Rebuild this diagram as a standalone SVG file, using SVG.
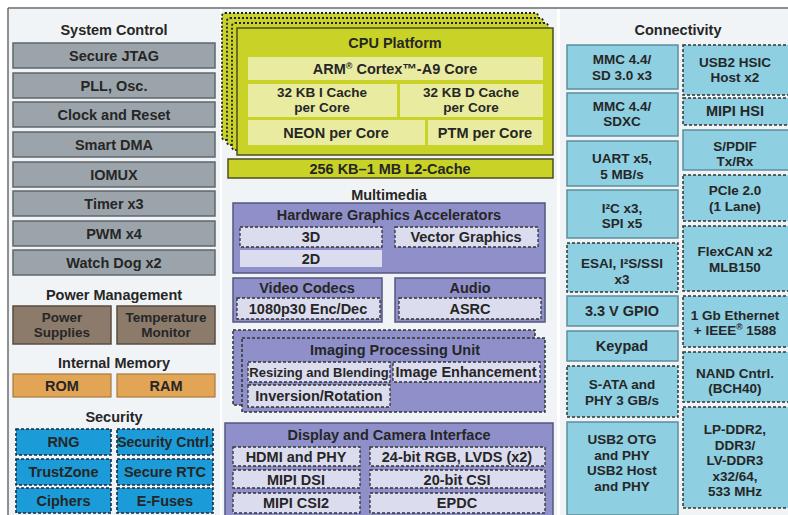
<svg xmlns="http://www.w3.org/2000/svg" width="788" height="515" viewBox="0 0 788 515">
<defs>
<style>
text{font-family:"Liberation Sans",Arial,sans-serif;font-weight:bold;font-size:14.5px;fill:#262626;text-anchor:middle}
.m{font-size:13.5px}
.panel{fill:#f1f4f6}
.sys{fill:#9ba4aa;stroke:#5f666b;stroke-width:1.5}
.pwr{fill:#8c7b6b;stroke:#5a4c40;stroke-width:1.5}
.mem{fill:#e2a455;stroke:#a8793c;stroke-width:1.2}
.sec{fill:#1b9bd7;stroke:#1c2a40;stroke-width:1.6;stroke-dasharray:3 2}
.cpuL{fill:#c8d22a;stroke:#222;stroke-width:1.8;stroke-dasharray:2 2}
.cpu{fill:#c9d327;stroke:#4d4d20;stroke-width:1.5}
.cpuIn{fill:#e9eca0}
.mm{fill:#8f90c9;stroke:#55567f;stroke-width:1.5}
.mmD{fill:#8f90c9;stroke:#333;stroke-width:1.5;stroke-dasharray:3 2}
.mmIn{fill:#dcdcef;stroke:#333;stroke-width:1.3;stroke-dasharray:3 2}
.mmIn2{fill:#dcdcef}
.con{fill:#8ecfe2;stroke:#5b8e9d;stroke-width:1.5}
.conD{fill:#8ecfe2;stroke:#333;stroke-width:1.5;stroke-dasharray:3 2}
</style>
</defs>
<rect x="0" y="0" width="788" height="515" fill="#ffffff"/>
<rect class="panel" x="9" y="9" width="211" height="506"/>
<rect class="panel" x="222" y="9" width="335" height="506"/>
<rect class="panel" x="560" y="9" width="228" height="506"/>
<line x1="8" y1="8" x2="788" y2="8" stroke="#6a6a6a" stroke-width="1.5"/>
<line x1="8" y1="8" x2="8" y2="515" stroke="#6a6a6a" stroke-width="1.5"/>

<g id="system-control">
<text x="114" y="35">System Control</text>
<rect class="sys" x="13" y="43" width="202" height="25"/><text x="114" y="60.5">Secure JTAG</text>
<rect class="sys" x="13" y="73" width="202" height="25"/><text x="114" y="90.5">PLL, Osc.</text>
<rect class="sys" x="13" y="102" width="202" height="25"/><text x="114" y="119.5">Clock and Reset</text>
<rect class="sys" x="13" y="132" width="202" height="25"/><text x="114" y="149.5">Smart DMA</text>
<rect class="sys" x="13" y="162" width="202" height="25"/><text x="114" y="179.5">IOMUX</text>
<rect class="sys" x="13" y="191" width="202" height="25"/><text x="114" y="208.5">Timer x3</text>
<rect class="sys" x="13" y="221" width="202" height="25"/><text x="114" y="238.5">PWM x4</text>
<rect class="sys" x="13" y="250" width="202" height="25"/><text x="114" y="267.5">Watch Dog x2</text>
</g>

<g id="power-management">
<text x="114" y="300">Power Management</text>
<rect class="pwr" x="13" y="306" width="98" height="38"/>
<text class="m" x="62" y="321.75">Power</text><text class="m" x="62" y="337.25">Supplies</text>
<rect class="pwr" x="117" y="306" width="98" height="38"/>
<text class="m" x="166" y="321.75">Temperature</text><text class="m" x="166" y="337.25">Monitor</text>
</g>

<g id="internal-memory">
<text x="114" y="368">Internal Memory</text>
<rect class="mem" x="13" y="374" width="98" height="23"/><text x="62" y="390.5">ROM</text>
<rect class="mem" x="117" y="374" width="98" height="23"/><text x="166" y="390.5">RAM</text>
</g>

<g id="security">
<text x="114" y="422">Security</text>
<rect class="sec" x="16" y="429" width="95" height="26"/><text x="63.5" y="447">RNG</text>
<rect class="sec" x="117" y="429" width="96" height="26"/><text x="165" y="447" style="font-size:14px">Security Cntrl.</text>
<rect class="sec" x="16" y="459" width="95" height="26"/><text x="63.5" y="477">TrustZone</text>
<rect class="sec" x="117" y="459" width="96" height="26"/><text x="165" y="477">Secure RTC</text>
<rect class="sec" x="16" y="488" width="95" height="25"/><text x="63.5" y="506">Ciphers</text>
<rect class="sec" x="117" y="488" width="96" height="25"/><text x="165" y="506">E-Fuses</text>
</g>

<g id="cpu-platform">
<rect class="cpuL" x="222" y="13" width="316" height="127" rx="3"/>
<rect class="cpuL" x="227" y="18" width="316" height="127" rx="3"/>
<rect class="cpuL" x="232" y="23" width="316" height="127" rx="3"/>
<rect class="cpu" x="237" y="28" width="316" height="127"/>
<text x="395" y="48">CPU Platform</text>
<rect class="cpuIn" x="248" y="57" width="295" height="23"/>
<text x="395" y="74">ARM<tspan font-size="9" baseline-shift="super">®</tspan> Cortex™-A9 Core</text>
<rect class="cpuIn" x="248" y="84" width="149" height="33"/>
<text class="m" x="322" y="96.75">32 KB I Cache</text><text class="m" x="322" y="112.25">per Core</text>
<rect class="cpuIn" x="400" y="84" width="143" height="33"/>
<text class="m" x="471" y="96.75">32 KB D Cache</text><text class="m" x="471" y="112.25">per Core</text>
<rect class="cpuIn" x="248" y="120" width="177" height="25"/><text x="336" y="137.5">NEON per Core</text>
<rect class="cpuIn" x="428" y="120" width="115" height="25"/><text x="485" y="137.5">PTM per Core</text>
</g>

<g id="l2-cache">
<rect class="cpu" x="228" y="159" width="325" height="19"/>
<text x="390" y="174">256 KB–1 MB L2-Cache</text>
</g>

<g id="multimedia">
<text x="389" y="200">Multimedia</text>
<rect class="mm" x="233" y="203" width="312" height="70"/>
<text x="389" y="220">Hardware Graphics Accelerators</text>
<rect class="mmIn" x="240" y="227" width="142" height="20"/><text x="311" y="242">3D</text>
<rect class="mmIn" x="395" y="227" width="143" height="20"/><text x="466" y="242">Vector Graphics</text>
<rect class="mmIn2" x="240" y="250" width="142" height="17"/><text x="311" y="264">2D</text>
<rect class="mm" x="233" y="278" width="149" height="44"/>
<text x="307" y="293">Video Codecs</text>
<rect class="mmIn" x="237" y="298" width="143" height="21"/><text x="308" y="314">1080p30 Enc/Dec</text>
<rect class="mm" x="395" y="278" width="150" height="44"/>
<text x="470" y="293">Audio</text>
<rect class="mmIn" x="399" y="298" width="142" height="21"/><text x="470" y="314">ASRC</text>
</g>

<g id="imaging-processing-unit">
<rect class="mmD" x="233" y="330" width="302" height="75"/>
<rect class="mmD" x="242" y="338" width="303" height="74"/>
<text x="395" y="355">Imaging Processing Unit</text>
<rect class="mmIn" x="248" y="362" width="142" height="20"/><text x="319" y="377" style="font-size:13px">Resizing and Blending</text>
<rect class="mmIn" x="393" y="362" width="147" height="20"/><text x="466" y="377">Image Enhancement</text>
<rect class="mmIn" x="248" y="385" width="142" height="22"/><text x="319" y="401">Inversion/Rotation</text>
</g>

<g id="display-camera">
<rect class="mm" x="225" y="423" width="328" height="95"/>
<text x="389" y="440">Display and Camera Interface</text>
<rect class="mmIn" x="233" y="447" width="127" height="19"/><text x="296" y="462">HDMI and PHY</text>
<rect class="mmIn" x="370" y="447" width="175" height="19"/><text x="457" y="462">24-bit RGB, LVDS (x2)</text>
<rect class="mmIn" x="233" y="470" width="127" height="18"/><text x="296" y="484.5">MIPI DSI</text>
<rect class="mmIn" x="370" y="470" width="175" height="18"/><text x="457" y="484.5">20-bit CSI</text>
<rect class="mmIn" x="233" y="493" width="127" height="20"/><text x="296" y="508">MIPI CSI2</text>
<rect class="mmIn" x="370" y="493" width="175" height="20"/><text x="457" y="508">EPDC</text>
</g>

<g id="connectivity">
<text x="678" y="35">Connectivity</text>
<rect class="con" x="567" y="45" width="111" height="44"/>
<text class="m" x="622" y="64.25">MMC 4.4/</text><text class="m" x="622" y="79.75">SD 3.0 x3</text>
<rect class="con" x="567" y="93" width="111" height="43"/>
<text class="m" x="622" y="110.75">MMC 4.4/</text><text class="m" x="622" y="126.25">SDXC</text>
<rect class="con" x="567" y="141" width="111" height="45"/>
<text class="m" x="622" y="163.25">UART x5,</text><text class="m" x="622" y="178.75">5 MB/s</text>
<rect class="con" x="567" y="190" width="111" height="48"/>
<text class="m" x="622" y="212.75">I²C x3,</text><text class="m" x="622" y="228.25">SPI x5</text>
<rect class="conD" x="567" y="243" width="111" height="49"/>
<text class="m" x="622" y="268.25">ESAI, I²S/SSI</text><text class="m" x="622" y="283.75">x3</text>
<rect class="con" x="567" y="296" width="111" height="30"/>
<text x="622" y="316">3.3 V GPIO</text>
<rect class="con" x="567" y="331" width="111" height="30"/>
<text x="622" y="351">Keypad</text>
<rect class="conD" x="567" y="366" width="111" height="51"/>
<text class="m" x="622" y="389.25">S-ATA and</text><text class="m" x="622" y="404.75">PHY 3 GB/s</text>
<rect class="con" x="567" y="422" width="111" height="93"/>
<text class="m" x="622" y="444">USB2 OTG</text><text class="m" x="622" y="459.5">and PHY</text><text class="m" x="622" y="475">USB2 Host</text><text class="m" x="622" y="490.5">and PHY</text>

<rect class="conD" x="683" y="45" width="106" height="50"/>
<text class="m" x="735" y="66.75">USB2 HSIC</text><text class="m" x="735" y="82.25">Host x2</text>
<rect class="conD" x="683" y="98" width="106" height="27"/>
<text x="735" y="116">MIPI HSI</text>
<rect class="con" x="683" y="130" width="106" height="40"/>
<text class="m" x="735" y="150.75">S/PDIF</text><text class="m" x="735" y="166.25">Tx/Rx</text>
<rect class="conD" x="683" y="175" width="106" height="46"/>
<text class="m" x="735" y="195.25">PCIe 2.0</text><text class="m" x="735" y="210.75">(1 Lane)</text>
<rect class="conD" x="683" y="226" width="106" height="65"/>
<text class="m" x="735" y="256.25">FlexCAN x2</text><text class="m" x="735" y="271.75">MLB150</text>
<rect class="conD" x="683" y="296" width="106" height="51"/>
<text class="m" x="735" y="319.75">1 Gb Ethernet</text><text class="m" x="735" y="335.25">+ IEEE<tspan font-size="8.5" baseline-shift="super">®</tspan> 1588</text>
<rect class="conD" x="683" y="352" width="106" height="50"/>
<text class="m" x="735" y="377.75">NAND Cntrl.</text><text class="m" x="735" y="393.25">(BCH40)</text>
<rect class="conD" x="683" y="407" width="106" height="101"/>
<text class="m" x="735" y="434">LP-DDR2,</text><text class="m" x="735" y="449.5">DDR3/</text><text class="m" x="735" y="465">LV-DDR3</text><text class="m" x="735" y="480.5">x32/64,</text><text class="m" x="735" y="496">533 MHz</text>
</g>

<g id="connectors"></g>
</svg>
